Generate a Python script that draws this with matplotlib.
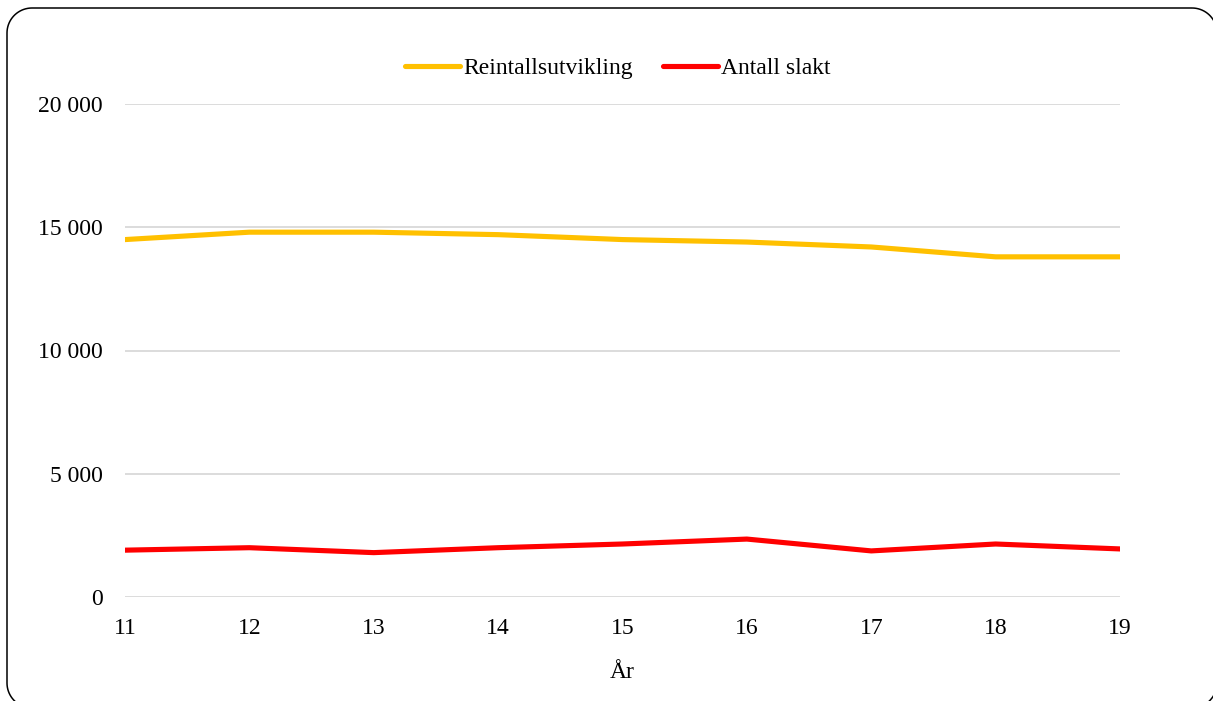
import matplotlib
matplotlib.use("Agg")
import numpy as np
import matplotlib.pyplot as plt
from matplotlib.patches import Polygon
from matplotlib.ticker import FuncFormatter

# data
years = [11, 12, 13, 14, 15, 16, 17, 18, 19]
reintall = [14500, 14800, 14800, 14700, 14500, 14400, 14200, 13800, 13800]
slakt = [1900, 2000, 1800, 2000, 2150, 2350, 1870, 2150, 1950]
y_ticks = [0, 5000, 10000, 15000, 20000]

plt.rcParams['font.family'] = ['Liberation Serif', 'DejaVu Serif']

W, H, DPI = 1213, 701, 100
fig = plt.figure(figsize=(W / DPI, H / DPI), dpi=DPI)
ax = fig.add_axes([125 / W, 1 - 597 / H, (1120 - 125) / W, (597 - 104) / H])

ax.plot(years, reintall, color='#FFC000', linewidth=3.7, label='Reintallsutvikling',
        solid_capstyle='round', solid_joinstyle='round', zorder=3)
ax.plot(years, slakt, color='#FF0000', linewidth=3.7, label='Antall slakt',
        solid_capstyle='round', solid_joinstyle='round', zorder=3)

ax.set_xlim(years[0], years[-1])
ax.set_ylim(0, 20000)
ax.set_xticks(years)
ax.set_yticks(y_ticks)
ax.yaxis.set_major_formatter(FuncFormatter(lambda v, p: f"{int(v):,}".replace(",", " ")))
ax.grid(axis='y', color='#d9d9d9', linewidth=1.3)
ax.set_axisbelow(True)
for s in ax.spines.values():
    s.set_visible(False)
ax.tick_params(axis='both', length=0, labelsize=17, colors='black')
ax.tick_params(axis='x', pad=15)
ax.tick_params(axis='y', pad=16)
ax.set_xlabel('År', fontsize=17, labelpad=17)

ax.legend(loc='center', bbox_to_anchor=(618 / W, 1 - 68 / H), bbox_transform=fig.transFigure,
          ncol=2, frameon=False, fontsize=17, handlelength=2.3, handletextpad=0.15,
          columnspacing=1.3)

# rounded frame (pixel coords, y from top), built as a polyline
x0, y0, x1, y1, r = 7, 8, 1217, 708, 25
t = np.linspace(0, np.pi / 2, 20)
pts = []
for cx, cy, a0 in [(x1 - r, y0 + r, -np.pi / 2), (x1 - r, y1 - r, 0),
                   (x0 + r, y1 - r, np.pi / 2), (x0 + r, y0 + r, np.pi)]:
    pts += [(cx + r * np.cos(a0 + a), cy + r * np.sin(a0 + a)) for a in t]
pts = [(px / W, 1 - py / H) for px, py in pts]
fig.patches.append(Polygon(pts, closed=True, fill=False, edgecolor='black',
                           linewidth=1.1, transform=fig.transFigure))

fig.savefig('out.png', dpi=DPI)
